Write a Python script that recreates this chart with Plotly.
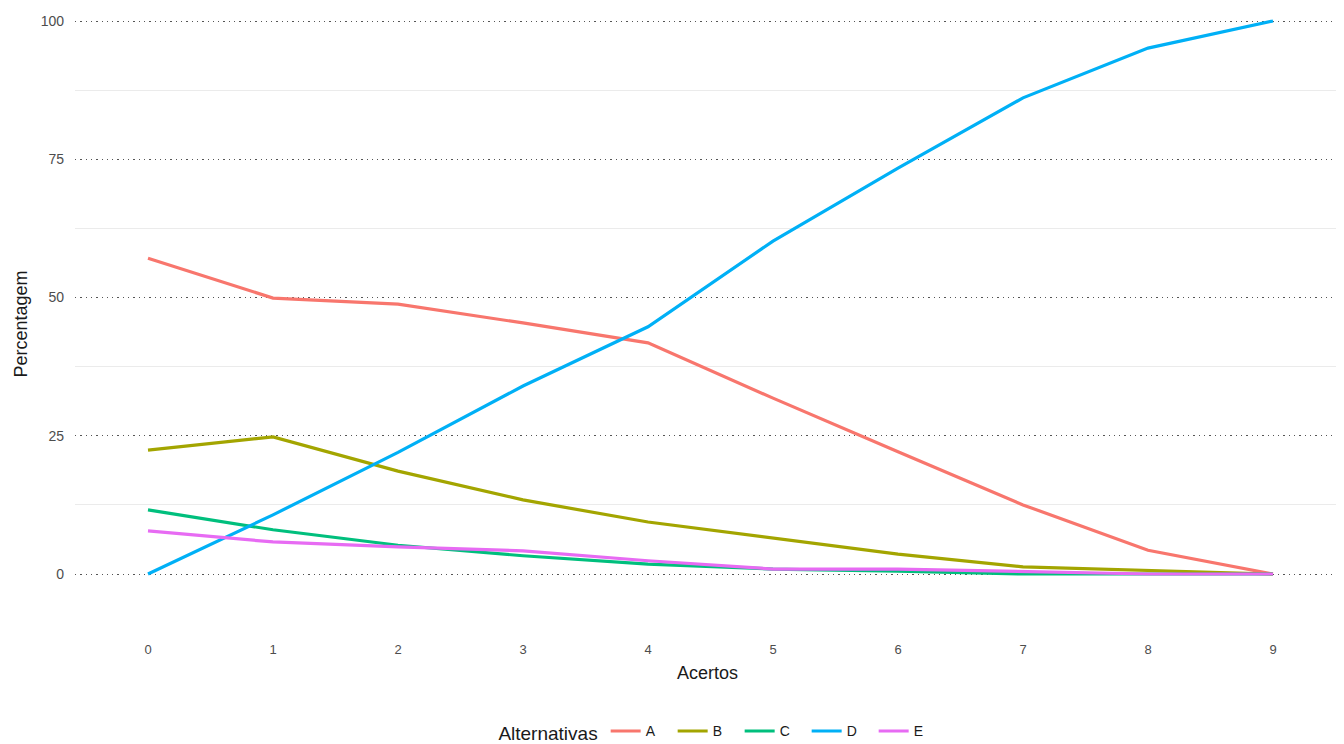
import plotly.graph_objects as go

acertos = [0, 1, 2, 3, 4, 5, 6, 7, 8, 9]
alt_a = [57.1, 49.9, 48.8, 45.4, 41.8, 31.8, 22.1, 12.5, 4.3, 0.0]
alt_b = [22.4, 24.8, 18.6, 13.4, 9.4, 6.5, 3.6, 1.3, 0.7, 0.0]
alt_c = [11.6, 8.0, 5.2, 3.3, 1.8, 0.9, 0.5, 0.0, 0.0, 0.0]
alt_d = [0.0, 10.7, 22.0, 34.0, 44.7, 60.2, 73.4, 86.1, 95.1, 100.0]
alt_e = [7.8, 5.8, 4.9, 4.2, 2.4, 0.9, 0.9, 0.4, 0.0, 0.0]

series = [("A", alt_a, "#F8766D"), ("B", alt_b, "#A3A500"), ("C", alt_c, "#00BF7D"),
          ("D", alt_d, "#00B0F6"), ("E", alt_e, "#E76BF3")]

fig = go.Figure()
for name, vals, col in series:
    fig.add_trace(go.Scatter(x=acertos, y=vals, mode="lines", name=name,
                             line=dict(color=col, width=3.2)))

fig.update_layout(
    width=1344, height=744, autosize=False,
    paper_bgcolor="white", plot_bgcolor="white",
    margin=dict(l=67, r=12, t=0, b=112, autoexpand=False),
    font=dict(family="Liberation Sans, Arial, sans-serif", color="#1a1a1a"),
    legend=dict(orientation="h", x=0.509, xanchor="center",
                y=-0.147, yanchor="middle", itemwidth=30, entrywidth=22,
                title=dict(text="Alternativas", font=dict(size=19, color="#1a1a1a")),
                font=dict(size=14, color="#1a1a1a")),
    xaxis=dict(range=[-0.584, 9.536], tickvals=acertos, showgrid=False, zeroline=False,
               showline=False, ticks="", automargin=False,
               tickfont=dict(size=13, color="#4D4D4D"),
               title=dict(text="Acertos", font=dict(size=18, color="#1a1a1a"), standoff=10)),
    yaxis=dict(range=[-11.93, 102.35], tickvals=[0, 25, 50, 75, 100], zeroline=False,
               showline=False, ticks="", automargin=False, ticklabelstandoff=10,
               tickfont=dict(size=14, color="#4D4D4D"),
               showgrid=True, gridcolor="#555555", griddash="1.3px,4px", gridwidth=1.2,
               minor=dict(tickvals=[12.5, 37.5, 62.5, 87.5], showgrid=True,
                          gridcolor="#EBEBEB", gridwidth=1, griddash="solid"),
               title=dict(text="Percentagem", font=dict(size=18, color="#1a1a1a"), standoff=8)),
)

fig.write_html("out.html")
